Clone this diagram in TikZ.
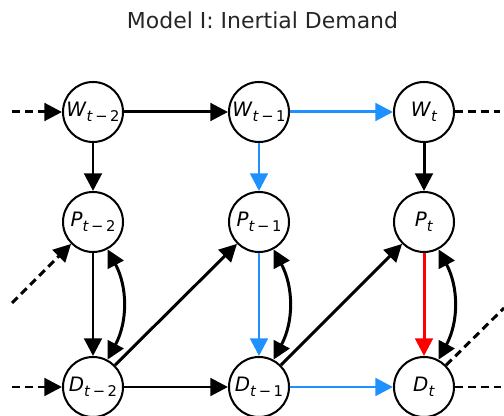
\documentclass[tikz,border=0pt]{standalone}
\usepackage{fontspec}
\setmainfont{DejaVu Sans}
\usetikzlibrary{arrows.meta,positioning}
\definecolor{dblue}{RGB}{30,144,255}
\definecolor{dred}{RGB}{255,0,0}
\newcommand{\lbl}[2]{\textit{#1}\raisebox{-0.45ex}{\fontsize{8.4}{9}\selectfont #2}}

\begin{document}
\begin{tikzpicture}[
  var/.style={circle, draw, line width=1.15pt, minimum size=1.2cm, inner sep=0pt, font=\fontsize{11.3}{13}\selectfont},
  arr/.style={-{Triangle[length=0.35cm, width=0.35cm]}, line width=1.7pt, #1},
  arr/.default=black,
  both/.style={{Triangle[length=0.35cm, width=0.35cm]}-{Triangle[length=0.35cm, width=0.35cm]}, line width=1.7pt},
  dashline/.style={line width=1.7pt, dash pattern=on 4.5pt off 2.8pt}
]
  \useasboundingbox (0,0) rectangle (10.08,8.32);
  \node[font=\fontsize{12.5}{15}\selectfont, text=black!85] (title) at (5.25,7.92) {Model I: Inertial Demand};

  % nodes
  \node[var] (w2) at (1.86,6.08) {\lbl{W}{\textit{t}\,−\,2}};
  \node[var] (w1) at (5.18,6.08) {\lbl{W}{\textit{t}\,−\,1}};
  \node[var] (w0) at (8.48,6.08) {\lbl{W}{\textit{t}}};
  \node[var] (p2) at (1.86,3.88) {\lbl{P}{\textit{t}\,−\,2}};
  \node[var] (p1) at (5.18,3.88) {\lbl{P}{\textit{t}\,−\,1}};
  \node[var] (p0) at (8.48,3.88) {\lbl{P}{\textit{t}}};
  \node[var] (d2) at (1.86,0.58) {\lbl{D}{\textit{t}\,−\,2}};
  \node[var] (d1) at (5.18,0.58) {\lbl{D}{\textit{t}\,−\,1}};
  \node[var] (d0) at (8.48,0.58) {\lbl{D}{\textit{t}}};

  % free ends
  \coordinate (inW) at (0.24,6.08);
  \coordinate (inP) at (0.24,2.26);
  \coordinate (inD) at (0.24,0.58);
  \coordinate (outW) at (10.0,6.08);
  \coordinate (outP) at (10.08,2.16);
  \coordinate (outD) at (10.08,0.58);

  \draw[arr, dashline] (inW) -- (w2);
  \draw[arr, dashline] (inP) -- (p2);
  \draw[arr, dashline] (inD) -- (d2);
  \draw[dashline] (w0) -- (outW);
  \draw[dashline] (d0) -- (outP);
  \draw[dashline] (d0) -- (outD);

  \draw[arr] (w2) -- (w1);
  \draw[arr=dblue] (w1) -- (w0);
  \draw[arr] (w2) -- (p2);
  \draw[arr=dblue] (w1) -- (p1);
  \draw[arr] (w0) -- (p0);

  \draw[arr] (p2) -- (d2);
  \draw[arr=dblue] (p1) -- (d1);
  \draw[arr=dred] (p0) -- (d0);
  \draw[both] (p2) to[bend left=28] (d2);
  \draw[both] (p1) to[bend left=28] (d1);
  \draw[both] (p0) to[bend left=28] (d0);

  \draw[arr] (d2) -- (p1);
  \draw[arr] (d1) -- (p0);
  \draw[arr] (d2) -- (d1);
  \draw[arr=dblue] (d1) -- (d0);
\end{tikzpicture}
\end{document}
